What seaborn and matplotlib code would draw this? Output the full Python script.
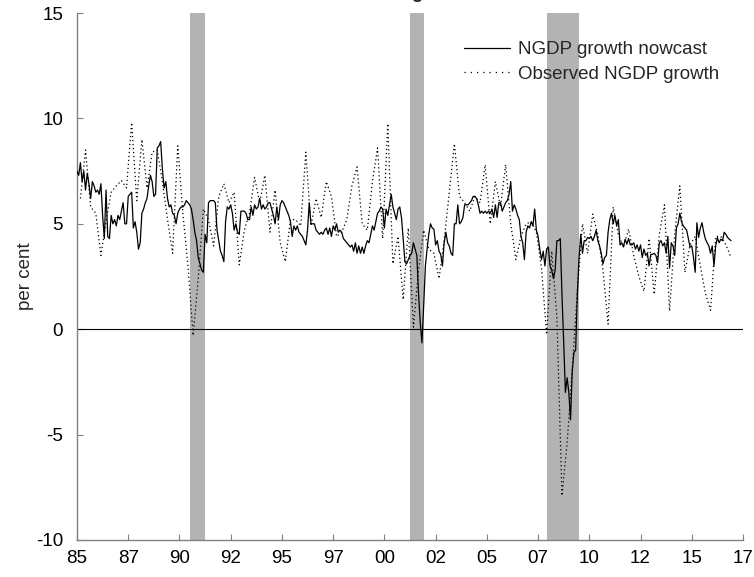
import numpy as np
import pandas as pd
import matplotlib
matplotlib.use("Agg")
import matplotlib.pyplot as plt
from matplotlib.lines import Line2D
import seaborn as sns

# Monthly NGDP growth nowcast, per cent, Jan 1985 onwards
nowcast = [
    7.5, 7.3, 7.9, 7.0, 7.5, 6.6, 7.4, 6.9, 6.2, 7.0,
    6.8, 6.5, 6.6, 6.4, 6.9, 5.4, 4.3, 6.6, 4.4, 4.3,
    5.4, 5.0, 5.2, 4.9, 5.4, 5.2, 5.6, 6.0, 5.0, 5.0,
    6.3, 6.4, 6.5, 4.8, 5.1, 4.6, 3.8, 4.1, 5.5, 5.7,
    6.0, 6.2, 6.8, 7.3, 7.0, 6.3, 6.4, 8.6, 8.7, 8.9,
    7.6, 6.7, 7.0, 6.2, 5.8, 5.9, 5.5, 5.4, 5.0, 5.5,
    5.7, 5.8, 5.8, 5.9, 6.1, 6.0,
    5.9, 5.7, 5.2, 4.6, 4.2, 3.4, 3.1, 2.8, 2.7, 4.5,
    4.1, 6.0, 6.1, 6.1, 6.1, 6.0, 4.7, 4.2, 3.7, 3.5,
    3.2, 5.1, 5.8, 5.7, 5.9, 5.5, 4.7, 5.0, 4.6, 4.5,
    5.6, 5.6, 5.6, 5.5, 5.2, 5.2, 5.8, 5.4, 5.9, 5.7,
    5.8, 6.2, 5.7, 5.9, 5.7, 5.8, 6.0, 6.0, 5.7, 5.4,
    5.0, 5.8, 5.2, 5.9, 6.1, 6.0, 5.8, 5.6, 5.4, 5.1,
    4.4, 4.9, 4.7, 4.9,
    4.6, 4.5, 4.4, 4.2, 4.0, 4.7, 6.0, 5.0, 5.0, 5.0,
    4.7, 4.6, 4.5, 4.6, 4.5, 4.7, 4.8, 4.5, 4.8, 4.4,
    4.9, 4.7, 5.0, 4.6, 4.7, 4.6, 4.3, 4.2, 4.1, 4.0,
    3.9, 4.0, 3.7, 4.1, 3.6, 3.95, 3.6, 3.9, 3.6, 3.95,
    4.2, 4.1, 4.5, 4.9, 4.7, 5.1, 5.5, 5.6, 5.8, 5.7,
    4.8, 5.7, 5.4, 5.9, 6.4, 5.8, 5.5, 5.2, 5.7, 5.8,
    5.3, 4.3, 3.2, 3.1, 3.3, 3.5,
    3.6, 4.1, 3.8, 3.5, 1.7, 0.3, -0.65, 1.1, 3.0, 3.8,
    4.5, 5.0, 4.8, 4.75, 4.0, 4.2, 3.7, 3.55, 3.0, 4.1,
    4.6, 4.1, 3.95, 3.6, 3.5, 5.0, 5.0, 5.9, 5.0, 5.1,
    5.3, 5.9, 5.9, 5.9, 6.0, 6.1, 6.3, 6.3, 6.2, 5.9,
    5.5, 5.6, 5.5, 5.6, 5.5, 5.6, 5.5, 5.7, 5.3, 5.9,
    5.3, 6.0, 6.0, 5.6, 5.8, 6.0, 6.1, 6.4, 7.0, 5.6,
    5.9, 5.7, 5.4, 5.2, 4.4, 4.1, 3.3, 4.6, 4.9, 4.8,
    5.1, 4.9, 5.7, 4.7, 4.4, 3.8, 3.3, 3.7, 3.0, 3.8,
    3.9, 3.0, 2.8, 2.4, 2.8, 4.2, 4.2, 4.3, 1.6, -0.6,
    -3.0, -2.3, -3.0, -4.3, -2.0, -1.1, -1.0, 1.7, 3.4, 4.5,
    3.6, 4.2, 4.2, 4.35, 4.3, 4.4, 4.2, 4.4, 4.7, 4.2,
    3.95, 3.6, 3.1, 3.4, 3.5, 4.6, 5.2, 5.5, 5.0, 5.4,
    4.9, 5.2, 4.0, 4.1, 3.9,
    4.27, 4.03, 4.3, 4.0, 4.0, 4.1, 3.8, 4.0, 3.7, 4.0,
    3.4, 3.8, 3.5, 3.6, 3.0, 3.55, 3.55, 3.6, 3.5, 3.16,
    4.1, 4.2, 3.95, 4.1, 3.6, 4.4, 2.9, 4.1, 3.95, 3.5,
    4.8, 5.0, 5.5, 5.1, 4.9, 4.8, 4.7, 4.3, 3.9, 3.95,
    3.4, 2.7, 5.05, 4.35, 4.8, 5.05, 4.6, 4.27, 4.1, 3.95,
    3.6, 3.95, 3.0, 3.95, 4.35, 4.1, 4.27, 4.2, 4.6, 4.5,
    4.35, 4.27, 4.2,
]

# Quarterly observed NGDP growth, per cent, dated at the last month of each quarter
observed = [
    6.2, 8.5, 5.8, 5.5, 3.5, 5.1, 6.5, 6.8, 7.05, 6.7,
    9.8, 6.1, 9.0, 6.7, 8.4, 8.5, 7.0, 5.2, 3.6, 8.7,
    5.5, 3.0, -0.3, 2.4, 5.7, 5.2, 3.95, 6.3, 6.9, 6.0,
    6.5, 3.05, 4.7, 5.5, 7.2, 6.0, 7.3, 4.6, 6.6, 4.1,
    3.2, 5.2, 5.2, 4.9, 8.4, 4.9, 6.2, 5.3, 7.0, 6.3,
    4.4, 4.6, 5.2, 6.8, 7.7, 5.0, 4.7, 7.0, 8.6, 4.3,
    9.75, 3.1, 4.4, 1.4, 4.8, 0.1, 2.8, 4.7, 3.8, 3.6,
    2.4, 4.2, 6.5, 8.8, 6.3, 6.0, 5.6, 6.3, 6.0, 7.8,
    5.0, 7.0, 5.8, 7.8, 5.0, 3.3, 4.4, 5.0, 5.1, 4.6,
    2.9, -0.25, 3.7, 0.6, -7.9, -5.4, -1.9, 1.8, 5.0, 3.6,
    5.46, 4.5, 2.8, 0.24, 5.8, 4.5, 3.9, 4.75, 3.5, 2.5,
    1.8, 4.3, 1.65, 4.5, 5.9, 0.86, 4.5, 6.8, 2.7, 4.0,
    4.4, 3.0, 1.7, 0.9, 4.4, 4.4, 4.0, 3.4,
]

# Recession periods (start, end) in decimal years
recessions = [(1990.5, 1991.25), (2001.25, 2001.92), (2007.92, 2009.5)]

x_ticks = list(np.arange(1985.0, 2017.51, 2.5))
x_labels = ["85", "87", "90", "92", "95", "97", "00", "02",
            "05", "07", "10", "12", "15", "17"]
y_ticks = [-10, -5, 0, 5, 10, 15]

now_df = pd.DataFrame({
    "date": 1985 + np.arange(len(nowcast)) / 12.0,
    "value": nowcast,
})
obs_df = pd.DataFrame({
    "date": 1985 + (3 * np.arange(1, len(observed) + 1) - 1) / 12.0,
    "value": observed,
})

sns.set_style("ticks")
plt.rcParams["font.family"] = ["Liberation Sans", "DejaVu Sans"]
FS = 13.5

fig = plt.figure(figsize=(7.54, 5.77), dpi=100)
ax = fig.add_axes([77 / 754, 1 - 540 / 577, 666 / 754, 527 / 577])

for start, end in recessions:
    ax.axvspan(start, end, color="#b3b3b3", lw=0, zorder=0)

ax.axhline(0, color="black", lw=0.8, zorder=1)

sns.lineplot(data=obs_df, x="date", y="value", ax=ax, color="black",
             lw=0.9, linestyle=(0, (1, 2.2)), zorder=2, legend=False)
sns.lineplot(data=now_df, x="date", y="value", ax=ax, color="black",
             lw=0.9, zorder=3, legend=False)

ax.set_xlim(1985, 2017.5)
ax.set_ylim(-10, 15)
ax.set_xticks(x_ticks)
ax.set_xticklabels(x_labels)
ax.set_yticks(y_ticks)
ax.set_yticklabels([str(v) for v in y_ticks])

for side in ("top", "right"):
    ax.spines[side].set_visible(False)
for side in ("left", "bottom"):
    ax.spines[side].set_color("#808080")
    ax.spines[side].set_linewidth(1.0)

ax.tick_params(axis="both", direction="in", length=4, width=0.8,
               color="#808080", labelsize=FS, labelcolor="black")
ax.tick_params(axis="y", pad=10)
ax.tick_params(axis="x", pad=7)

ax.set_xlabel("")
ax.set_ylabel("per cent", fontsize=FS)
ax.yaxis.set_label_coords(-0.064, 0.5)

handles = [
    Line2D([], [], color="black", lw=0.9),
    Line2D([], [], color="black", lw=0.9, linestyle=(0, (1, 4))),
]
ax.legend(handles, ["NGDP growth nowcast", "Observed NGDP growth"],
          loc="upper left", bbox_to_anchor=(464 / 754, 1 - 41 / 577),
          bbox_transform=fig.transFigure, frameon=False, borderpad=0,
          borderaxespad=0, handlelength=2.45, handletextpad=0.43,
          labelspacing=0.39, fontsize=FS)

# Chart title sits just above the top edge; only its descenders reach the canvas
fig.text(414 / 754, 1 + 2 / 577, "NGDP growth", ha="center", va="baseline",
         fontsize=FS, fontweight="bold")

fig.savefig("out.png", dpi=100)
